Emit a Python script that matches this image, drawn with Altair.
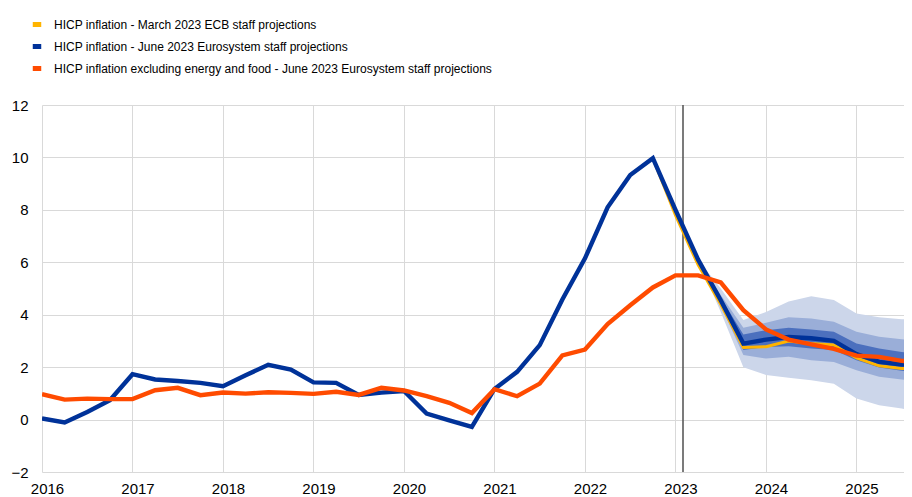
import altair as alt
import pandas as pd

# ---------------- data ----------------
years = list(range(2016, 2026))
quarters = [y + q / 4 for y in years for q in range(4)]  # 2016Q1 ... 2025Q4

series_names = [
    "HICP inflation - March 2023 ECB staff projections",
    "HICP inflation - June 2023 Eurosystem staff projections",
    "HICP inflation excluding energy and food - June 2023 Eurosystem staff projections",
]
series_colors = ["#ffb400", "#003299", "#ff4b00"]

hicp_june = [
    0.04, -0.11, 0.29, 0.74,
    1.73, 1.53, 1.47, 1.40,
    1.27, 1.69, 2.09, 1.91,
    1.42, 1.40, 0.94, 1.03,
    1.09, 0.23, -0.03, -0.28,
    1.17, 1.82, 2.84, 4.58,
    6.15, 8.10, 9.33, 9.97,
    8.00, 6.10, 4.55, 2.90,
    3.05, 3.15, 3.10, 3.00,
    2.50, 2.20, 2.10, 2.05,
]
hicp_march = [
    0.04, -0.11, 0.29, 0.74,
    1.73, 1.53, 1.47, 1.40,
    1.27, 1.69, 2.09, 1.91,
    1.42, 1.40, 0.94, 1.03,
    1.09, 0.23, -0.03, -0.28,
    1.17, 1.82, 2.84, 4.58,
    6.15, 8.10, 9.33, 9.97,
    7.80, 5.90, 4.40, 2.75,
    2.78, 3.00, 2.90, 2.85,
    2.35, 2.05, 1.95, 1.90,
]
hicpx_june = [
    0.97, 0.76, 0.80, 0.78,
    0.78, 1.12, 1.21, 0.93,
    1.03, 0.99, 1.04, 1.02,
    0.98, 1.06, 0.94, 1.21,
    1.11, 0.89, 0.64, 0.25,
    1.16, 0.89, 1.37, 2.45,
    2.67, 3.64, 4.36, 5.04,
    5.50, 5.50, 5.23, 4.17,
    3.44, 3.05, 2.87, 2.70,
    2.44, 2.39, 2.24, 2.20,
]

# uncertainty fan, 2023Q2 ... 2025Q4
fan_quarters = quarters[29:]
outer_lo = [6.10, 4.10, 2.00, 1.70, 1.60, 1.50, 1.37, 0.80, 0.55, 0.42, 0.30]
outer_hi = [6.10, 5.00, 3.80, 4.10, 4.50, 4.70, 4.56, 4.05, 3.90, 3.83, 3.80]
mid_lo = [6.10, 4.35, 2.46, 2.33, 2.40, 2.26, 2.20, 1.88, 1.63, 1.53, 1.45]
mid_hi = [6.10, 4.75, 3.50, 3.69, 3.90, 3.86, 3.73, 3.35, 3.16, 3.06, 3.00]
inner_lo = [6.10, 4.45, 2.65, 2.77, 2.80, 2.71, 2.65, 2.26, 1.99, 1.86, 1.78]
inner_hi = [6.10, 4.65, 3.25, 3.41, 3.50, 3.44, 3.35, 2.90, 2.71, 2.58, 2.50]
fan_colors = ["#ccd6ea", "#9aaed8", "#4c70be"]

cutoff = [2023.083]
y_ticks = [-2, 0, 2, 4, 6, 8, 10, 12]

# ---------------- tables ----------------
rows = []
for name, vals in zip(series_names, [hicp_march, hicp_june, hicpx_june]):
    for t, v in zip(quarters, vals):
        rows.append({"t": t, "v": v, "series": name})
lines_df = pd.DataFrame(rows)

fan_df = pd.DataFrame({
    "t": fan_quarters,
    "outer_lo": outer_lo, "outer_hi": outer_hi,
    "mid_lo": mid_lo, "mid_hi": mid_hi,
    "inner_lo": inner_lo, "inner_hi": inner_hi,
})

x_enc = alt.X(
    "t:Q",
    title=None,
    scale=alt.Scale(domain=[2016, 2025.525], nice=False, zero=False),
    axis=alt.Axis(values=years, format="d", labelPadding=9, labelOffset=5,
                  labelFlush=False, labelOverlap=False),
)

def y_enc(field):
    return alt.Y(
        f"{field}:Q",
        title=None,
        scale=alt.Scale(domain=[-2, 12], nice=False, zero=False),
        axis=alt.Axis(values=y_ticks, labelPadding=14, labelFlush=False),
    )

fan_layers = []
for (lo, hi), col in zip([("outer_lo", "outer_hi"), ("mid_lo", "mid_hi"),
                          ("inner_lo", "inner_hi")], fan_colors):
    fan_layers.append(
        alt.Chart(fan_df).mark_area(color=col, clip=True, opacity=1).encode(
            x=x_enc, y=y_enc(lo), y2=alt.Y2(f"{hi}:Q")
        )
    )

rule = alt.Chart(pd.DataFrame({"t": cutoff})).mark_rule(
    color="#5a5a5a", strokeWidth=1.6
).encode(x=alt.X("t:Q"))

color_enc = alt.Color(
    "series:N",
    scale=alt.Scale(domain=series_names, range=series_colors),
    legend=alt.Legend(
        orient="none", legendX=-12, legendY=-87.5, title=None,
        direction="vertical", symbolType="stroke", symbolStrokeWidth=5,
        symbolSize=72, labelFont="Liberation Sans", labelFontSize=12,
        labelColor="#000000", labelOffset=10, rowPadding=2, labelLimit=0,
        padding=0,
    ),
)

line_layers = []
for name, width in zip(series_names, [3, 4.4, 4.4]):
    line_layers.append(
        alt.Chart(lines_df).transform_filter(alt.datum.series == name)
        .mark_line(strokeWidth=width, clip=True, strokeJoin="miter")
        .encode(x=x_enc, y=y_enc("v"), color=color_enc, order="t:Q")
    )

chart = alt.layer(*fan_layers, rule, *line_layers).properties(
    width=862, height=367,
    autosize=alt.AutoSizeParams(type="none"),
    padding={"left": 34, "top": 97, "right": 0, "bottom": 25},
).configure_axis(
    grid=True, gridColor="#d9d9d9", gridWidth=1, domain=False, ticks=False,
    labelFont="Liberation Sans", labelFontSize=15, labelColor="#000000",
).configure_view(stroke=None)

chart.save("out.html", embed_options={"renderer": "svg", "actions": False})
